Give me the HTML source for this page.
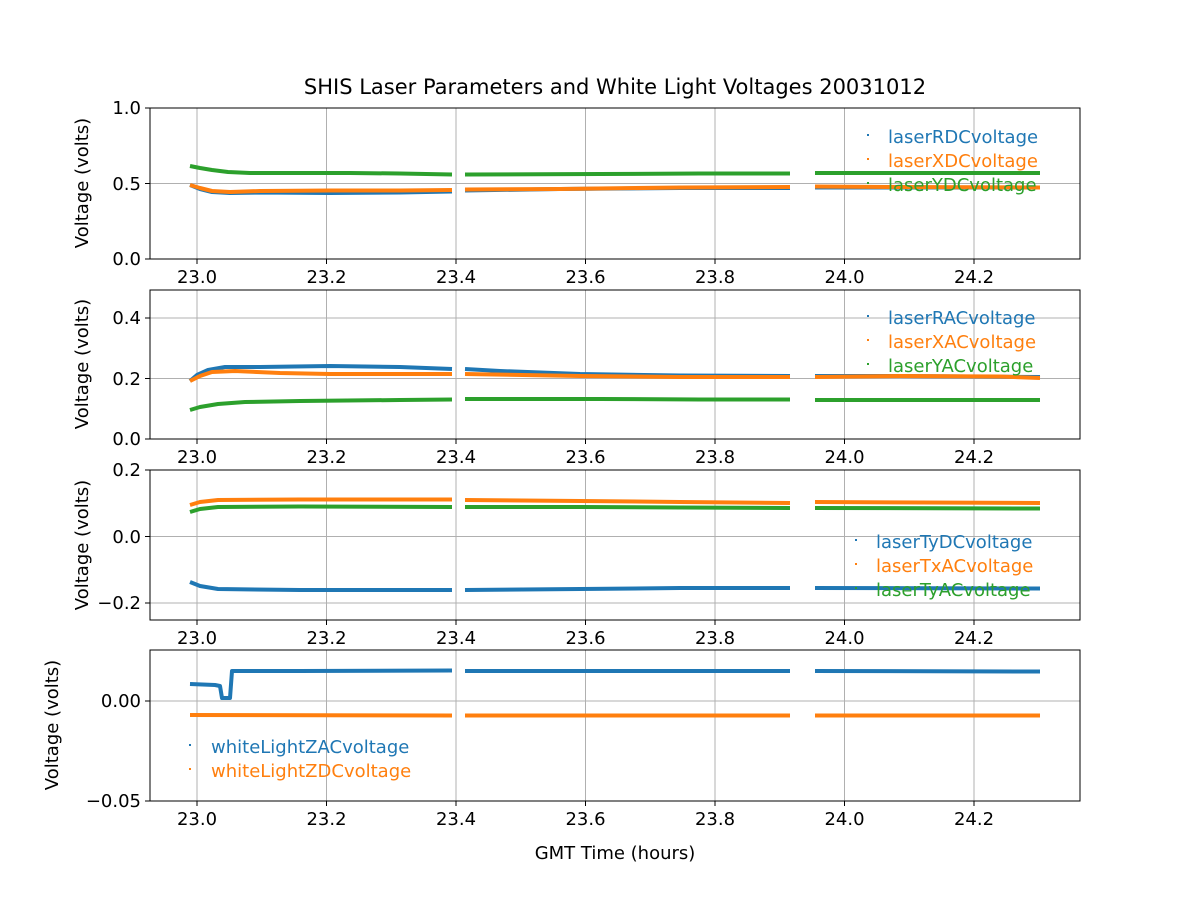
<!DOCTYPE html>
<html><head><meta charset="utf-8"><style>
html,body{margin:0;padding:0;background:#fff;}
svg text{font-family:"DejaVu Sans","Liberation Sans",sans-serif;font-size:18px;fill:#000;}
</style></head><body>
<svg width="1200" height="900" viewBox="0 0 1200 900" xmlns="http://www.w3.org/2000/svg">
<rect width="1200" height="900" fill="#fff"/>
<text x="615" y="94" text-anchor="middle" style="font-size:21px">SHIS Laser Parameters and White Light Voltages 20031012</text>

<g stroke="#b0b0b0" stroke-width="1">
<g id="vg">
<line x1="197" x2="197" y1="108" y2="259"/><line x1="326.5" x2="326.5" y1="108" y2="259"/><line x1="456" x2="456" y1="108" y2="259"/><line x1="585.5" x2="585.5" y1="108" y2="259"/><line x1="715" x2="715" y1="108" y2="259"/><line x1="844.5" x2="844.5" y1="108" y2="259"/><line x1="974" x2="974" y1="108" y2="259"/>
</g>
<use href="#vg" transform="translate(0,182)"/>
<use href="#vg" transform="translate(0,362)"/>
<use href="#vg" transform="translate(0,542)"/>
<line x1="150" x2="1080" y1="183.5" y2="183.5"/>
<line x1="150" x2="1080" y1="378.5" y2="378.5"/><line x1="150" x2="1080" y1="318" y2="318"/>
<line x1="150" x2="1080" y1="536.5" y2="536.5"/><line x1="150" x2="1080" y1="603" y2="603"/>
<line x1="150" x2="1080" y1="701" y2="701"/>
</g>

<g fill="none" stroke-width="4" stroke-linejoin="round">
<g stroke="#2ca02c">
<polyline points="190,166 200,168 212,170 228,172 250,173 300,173 350,173 400,173.5 452,174.5"/>
<polyline points="465,174.5 600,174 700,173.5 790,173.5"/>
<polyline points="815,173 900,173 1000,173 1040,173"/>
</g>
<g stroke="#1f77b4">
<polyline points="190,185 200,189 212,192 230,193 260,192.5 330,193 400,192.5 452,191.5"/>
<polyline points="465,190.5 560,189 680,188 790,188"/>
<polyline points="815,187.5 900,187.5 1040,187.5"/>
</g>
<g stroke="#ff7f0e">
<polyline points="190,185 200,188 212,191 230,192 260,191 330,190.5 400,190.5 452,190"/>
<polyline points="465,189.5 560,189 680,187.5 790,187"/>
<polyline points="815,186.5 900,187 1040,187.5"/>
</g>
<g stroke="#1f77b4">
<polyline points="190,381 197,375 208,370 225,367 260,367 330,366 400,367 452,369"/>
<polyline points="465,369 500,371 580,374 680,375.5 790,376"/>
<polyline points="815,376 900,376 1040,377"/>
</g>
<g stroke="#ff7f0e">
<polyline points="190,381 200,376 212,372 235,371 280,373 330,374 452,374"/>
<polyline points="465,374 580,376 680,377 790,377"/>
<polyline points="815,377 900,376 1000,376.5 1040,378"/>
</g>
<g stroke="#2ca02c">
<polyline points="190,410 200,407 218,404 245,402 300,401 400,400 452,399.5"/>
<polyline points="465,399 600,399 700,399.5 790,399.5"/>
<polyline points="815,400 900,400 1040,400"/>
</g>
<g stroke="#ff7f0e">
<polyline points="190,505 200,502 218,500 300,499.5 452,499.5"/>
<polyline points="465,500 580,501 680,502 790,503"/>
<polyline points="815,502 1040,503"/>
</g>
<g stroke="#2ca02c">
<polyline points="190,512 200,509 218,507 300,506.5 452,507"/>
<polyline points="465,507 580,507 680,507.5 790,508"/>
<polyline points="815,508 1040,508.5"/>
</g>
<g stroke="#1f77b4">
<polyline points="190,582 200,586 218,589 300,590 452,590"/>
<polyline points="465,590 580,589 680,588 790,588"/>
<polyline points="815,588 1040,588.5"/>
</g>
<g stroke="#1f77b4">
<polyline points="190,684 215,685 220,686 222,698 230,698 232,671 300,671 452,670.5"/>
<polyline points="465,671 600,671 790,671"/>
<polyline points="815,671 1040,671.5"/>
</g>
<g stroke="#ff7f0e">
<polyline points="190,715 452,715.5"/>
<polyline points="465,715.5 790,715.5"/>
<polyline points="815,715.5 1040,715.5"/>
</g>
</g>

<g fill="none" stroke="#000" stroke-width="1">
<rect x="150" y="108" width="930" height="151"/>
<rect x="150" y="290" width="930" height="149"/>
<rect x="150" y="470" width="930" height="150"/>
<rect x="150" y="650" width="930" height="151"/>
</g>
<g stroke="#000" stroke-width="1">
<line x1="145" x2="150" y1="108" y2="108"/><line x1="145" x2="150" y1="183.5" y2="183.5"/><line x1="145" x2="150" y1="259" y2="259"/>
<line x1="145" x2="150" y1="318" y2="318"/><line x1="145" x2="150" y1="378.5" y2="378.5"/><line x1="145" x2="150" y1="439" y2="439"/>
<line x1="145" x2="150" y1="470" y2="470"/><line x1="145" x2="150" y1="536.5" y2="536.5"/><line x1="145" x2="150" y1="603" y2="603"/>
<line x1="145" x2="150" y1="701" y2="701"/><line x1="145" x2="150" y1="801" y2="801"/>
<g id="xt"><line x1="197" x2="197" y1="259" y2="264"/><line x1="326.5" x2="326.5" y1="259" y2="264"/><line x1="456" x2="456" y1="259" y2="264"/><line x1="585.5" x2="585.5" y1="259" y2="264"/><line x1="715" x2="715" y1="259" y2="264"/><line x1="844.5" x2="844.5" y1="259" y2="264"/><line x1="974" x2="974" y1="259" y2="264"/></g>
<use href="#xt" transform="translate(0,180)"/><use href="#xt" transform="translate(0,361)"/><use href="#xt" transform="translate(0,542)"/>
</g>
<g text-anchor="end">
<text x="141" y="114">1.0</text><text x="141" y="190">0.5</text><text x="141" y="265">0.0</text>
<text x="141" y="324">0.4</text><text x="141" y="385">0.2</text><text x="141" y="445">0.0</text>
<text x="141" y="476">0.2</text><text x="141" y="543">0.0</text><text x="141" y="609">−0.2</text>
<text x="141" y="707">0.00</text><text x="141" y="807">−0.05</text>
</g>
<g text-anchor="middle">
<g id="xl"><text x="197" y="283">23.0</text><text x="326.5" y="283">23.2</text><text x="456" y="283">23.4</text><text x="585.5" y="283">23.6</text><text x="715" y="283">23.8</text><text x="844.5" y="283">24.0</text><text x="974" y="283">24.2</text></g>
<use href="#xl" transform="translate(0,180)"/><use href="#xl" transform="translate(0,361)"/><use href="#xl" transform="translate(0,542)"/>
<text x="615" y="859">GMT Time (hours)</text>
</g>
<g text-anchor="middle">
<text transform="translate(88,183) rotate(-90)">Voltage (volts)</text>
<text transform="translate(88,364) rotate(-90)">Voltage (volts)</text>
<text transform="translate(88,545) rotate(-90)">Voltage (volts)</text>
<text transform="translate(58,725) rotate(-90)">Voltage (volts)</text>
</g>
<g>
<rect x="867" y="134" width="2" height="2" fill="#1f77b4"/><text x="888" y="143" style="fill:#1f77b4">laserRDCvoltage</text>
<rect x="867" y="158" width="2" height="2" fill="#ff7f0e"/><text x="888" y="167" style="fill:#ff7f0e">laserXDCvoltage</text>
<rect x="867" y="182" width="2" height="2" fill="#2ca02c"/><text x="888" y="191" style="fill:#2ca02c">laserYDCvoltage</text>
<rect x="867" y="315" width="2" height="2" fill="#1f77b4"/><text x="888" y="324" style="fill:#1f77b4">laserRACvoltage</text>
<rect x="867" y="339" width="2" height="2" fill="#ff7f0e"/><text x="888" y="348" style="fill:#ff7f0e">laserXACvoltage</text>
<rect x="867" y="363" width="2" height="2" fill="#2ca02c"/><text x="888" y="372" style="fill:#2ca02c">laserYACvoltage</text>
<rect x="855" y="539" width="2" height="2" fill="#1f77b4"/><text x="876" y="548" style="fill:#1f77b4">laserTyDCvoltage</text>
<rect x="855" y="563" width="2" height="2" fill="#ff7f0e"/><text x="876" y="572" style="fill:#ff7f0e">laserTxACvoltage</text>
<rect x="855" y="587" width="2" height="2" fill="#2ca02c"/><text x="876" y="596" style="fill:#2ca02c">laserTyACvoltage</text>
<rect x="189" y="744" width="2" height="2" fill="#1f77b4"/><text x="211" y="753" style="fill:#1f77b4">whiteLightZACvoltage</text>
<rect x="189" y="768" width="2" height="2" fill="#ff7f0e"/><text x="211" y="777" style="fill:#ff7f0e">whiteLightZDCvoltage</text>
</g>
</svg>
</body></html>
